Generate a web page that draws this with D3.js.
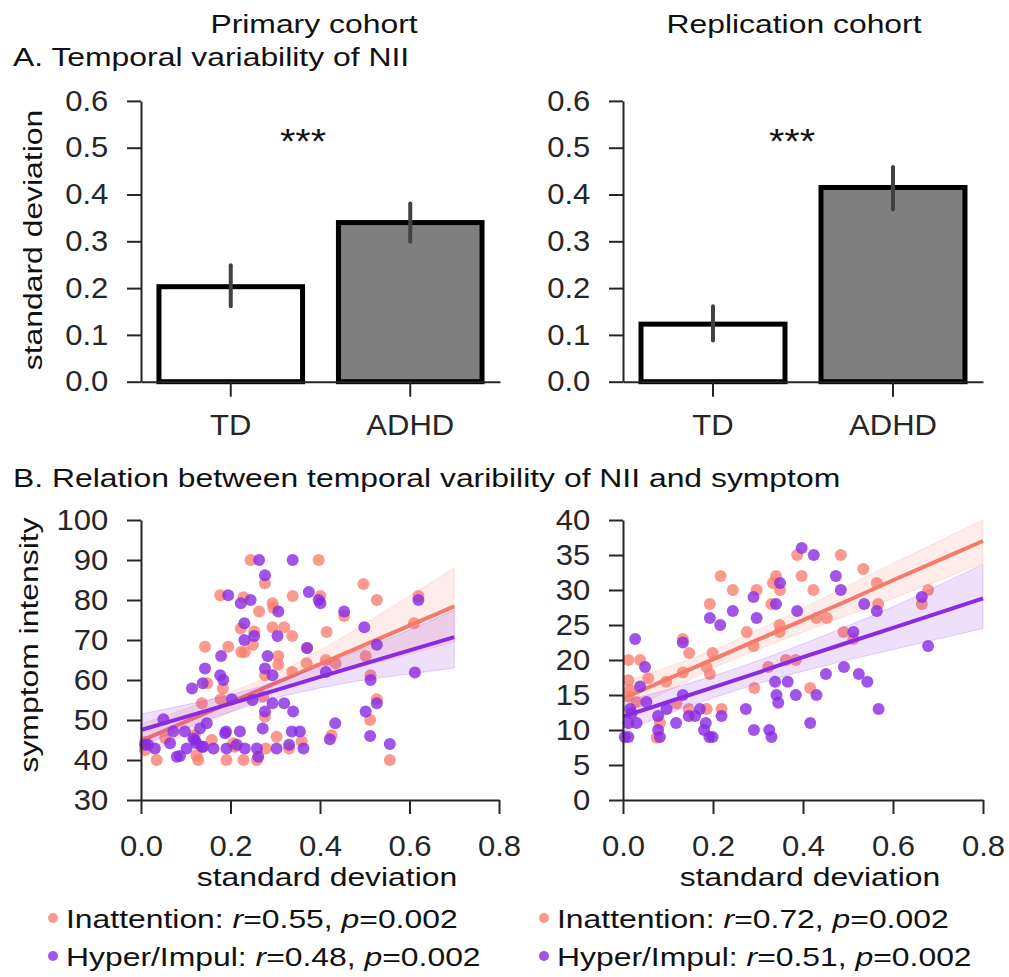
<!DOCTYPE html>
<html>
<head>
<meta charset="utf-8">
<script src="https://cdn.jsdelivr.net/npm/d3@7"></script>
<style>
body { margin: 0; background: #fff; }
svg text { font-family: "Liberation Sans", Arial, sans-serif; }
</style>
</head>
<body>
<svg id="chart" width="1009" height="977"></svg>
<script>
// ---- panel A: bar values (mean and CI) ----
const groups = ["TD", "ADHD"]
const primaryMeans = [0.203, 0.340]
const primaryLow = [0.161, 0.299]
const primaryHigh = [0.249, 0.381]
const replicationMeans = [0.123, 0.415]
const replicationLow = [0.088, 0.368]
const replicationHigh = [0.161, 0.459]
const barTicks = [0, 0.1, 0.2, 0.3, 0.4, 0.5, 0.6]

// ---- panel B: scatter points [sd, symptom] ----
const primaryInattention = [[0.245,90],[0.397,90],[0.277,84.2],[0.497,84],[0.177,81.2],[0.229,80.7],[0.339,81],[0.401,81],[0.527,80],[0.620,81],[0.294,79.2],[0.296,78],[0.264,77.1],[0.454,76],[0.223,72.9],[0.253,72.1],[0.250,68.8],[0.294,73.2],[0.320,73.2],[0.338,71],[0.415,72],[0.610,74.2],[0.143,68.3],[0.195,68.3],[0.224,67],[0.232,67],[0.307,66],[0.307,63.8],[0.371,68],[0.502,66],[0.277,61.2],[0.338,62],[0.370,64.2],[0.413,65],[0.435,64.2],[0.513,61.2],[0.148,59.2],[0.183,57.9],[0.136,54.2],[0.178,55.2],[0.273,55.8],[0.277,50.8],[0.527,55.2],[0.512,50],[0.426,46.2],[0.303,45.8],[0.556,40],[0.009,42.5],[0.035,40],[0.128,40],[0.191,40],[0.229,40],[0.259,40],[0.158,45],[0.279,42.9],[0.331,42.9],[0.359,44.6],[0.206,44.2],[0.124,41.2],[0.054,45.5],[0.009,44.5],[0.120,46.2],[0.210,43.3]]
const primaryHyper = [[0.264,90],[0.339,90],[0.277,86.2],[0.195,81.2],[0.245,80],[0.375,82],[0.397,80],[0.401,79.2],[0.620,80],[0.223,79.2],[0.307,77.1],[0.454,77.1],[0.231,74.2],[0.253,71],[0.231,70],[0.305,71],[0.499,73.2],[0.179,66],[0.283,66],[0.371,68],[0.527,68.8],[0.143,62.9],[0.277,62.9],[0.294,61.2],[0.413,62],[0.612,61.9],[0.513,60],[0.177,61.2],[0.184,60],[0.138,59.2],[0.114,57.9],[0.203,55.2],[0.249,55],[0.294,54.2],[0.320,54.2],[0.277,52.1],[0.340,52.1],[0.502,52.1],[0.527,54.2],[0.050,50.2],[0.147,49.2],[0.132,47.9],[0.272,47.9],[0.221,47.1],[0.190,47.1],[0.337,47.1],[0.355,47.1],[0.434,49.2],[0.422,45.2],[0.512,46],[0.556,44],[0.072,47.1],[0.098,47.1],[0.009,43.8],[0.031,42.9],[0.065,44.2],[0.080,40.8],[0.087,41],[0.262,40.8],[0.117,45.4],[0.124,44.2],[0.139,43.3],[0.162,42.9],[0.102,42.9],[0.191,42.9],[0.214,43.8],[0.232,42.9],[0.259,42.9],[0.303,42.9],[0.331,43.8],[0.363,42.9],[0.016,43.8],[0.136,43.3],[0.188,46.7],[0.120,45]]
const replicationInattention = [[0.387,35],[0.484,35],[0.217,32],[0.340,32],[0.397,32],[0.534,33],[0.244,30],[0.297,30],[0.333,31],[0.349,30],[0.423,30],[0.564,31],[0.678,30],[0.193,28],[0.330,28],[0.567,28],[0.664,28],[0.430,26],[0.453,26],[0.348,25],[0.348,24],[0.275,24],[0.290,22],[0.490,24],[0.512,23],[0.133,23],[0.147,21],[0.199,21],[0.186,19],[0.193,18],[0.362,20],[0.384,20],[0.323,19],[0.133,18.2],[0.012,20],[0.038,20],[0.056,17.4],[0.096,16.9],[0.012,17.1],[0.015,15.7],[0.012,14.8],[0.030,14],[0.119,13.8],[0.146,13],[0.186,13],[0.219,13],[0.292,16],[0.416,16],[0.082,11],[0.075,8.9]]
const replicationHyper = [[0.397,36],[0.424,35],[0.473,32],[0.349,31],[0.484,30],[0.290,29],[0.340,28],[0.536,28],[0.664,29],[0.564,27],[0.387,27],[0.244,27],[0.193,26],[0.297,26],[0.216,25],[0.512,24],[0.678,22],[0.027,23],[0.133,22.5],[0.049,19],[0.491,19],[0.451,18],[0.524,18],[0.543,16.9],[0.338,16.9],[0.366,16.9],[0.038,16.2],[0.133,15],[0.341,15],[0.384,15],[0.430,15],[0.345,13.9],[0.052,14],[0.097,13],[0.016,13],[0.146,12],[0.171,13],[0.160,12],[0.184,11],[0.219,12],[0.273,13],[0.118,11],[0.078,12],[0.078,10],[0.082,9],[0.030,11],[0.012,11],[0.012,9],[0.004,9],[0.180,10],[0.192,9],[0.199,9],[0.291,10],[0.325,10],[0.330,9],[0.416,11],[0.568,13],[0.019,12.4]]

// ---- regression fits and 95% CI ----
const primaryFitX = [0, 0.1, 0.2, 0.3, 0.4, 0.5, 0.6, 0.7]
const primaryInattFit = [44.8, 49.6, 54.4, 59.2, 64.0, 68.8, 73.6, 78.4]
const primaryInattLow = [40.5, 46.5, 52.0, 57.0, 60.5, 63.5, 66.5, 69.5]
const primaryInattHigh = [49.0, 52.8, 57.0, 61.5, 67.5, 74.0, 81.0, 88.0]
const primaryHyperFit = [47.5, 50.8, 54.1, 57.4, 60.8, 64.1, 67.4, 70.7]
const primaryHyperLow = [43.5, 48.0, 52.0, 55.5, 58.0, 60.0, 61.5, 63.0]
const primaryHyperHigh = [51.5, 53.8, 56.3, 59.5, 63.5, 68.0, 72.5, 77.5]

const replicationFitX = [0, 0.1, 0.2, 0.3, 0.4, 0.5, 0.6, 0.7, 0.8]
const replicationInattFit = [14.5, 17.3, 20.1, 22.9, 25.7, 28.5, 31.4, 34.2, 37.0]
const replicationInattLow = [12.4, 15.6, 18.8, 21.5, 24.0, 26.4, 28.8, 31.3, 33.9]
const replicationInattHigh = [16.7, 19.0, 21.4, 24.3, 27.4, 30.6, 33.8, 36.9, 40.0]
const replicationHyperFit = [11.9, 14.0, 16.1, 18.2, 20.4, 22.5, 24.6, 26.7, 28.8]
const replicationHyperLow = [9.8, 12.3, 14.6, 16.6, 18.4, 20.0, 21.5, 23.0, 24.5]
const replicationHyperHigh = [14.1, 15.8, 17.7, 19.9, 22.3, 24.9, 27.6, 30.6, 33.7]

const sdTicks = [0, 0.2, 0.4, 0.6, 0.8]
const primarySymptomTicks = [30, 40, 50, 60, 70, 80, 90, 100]
const replicationSymptomTicks = [0, 5, 10, 15, 20, 25, 30, 35, 40]

const primaryLegend = [["Inattention", "0.55", "0.002"], ["Hyper/Impul", "0.48", "0.002"]]
const replicationLegend = [["Inattention", "0.72", "0.002"], ["Hyper/Impul", "0.51", "0.002"]]

const orange = "#fa8072"
const purple = "#8a2be2"
const ink = "#262626"
// glyphs in the original are wider than Arial: stretch text horizontally
const labelSize = 25.5, labelSX = 1.25
const tickSize = 29, tickSX = 1.07

const svg = d3.select("#chart")

function addText(x, y, str, size, anchor, rotate, sx) {
    return svg.append("text")
        .attr("transform", `translate(${x},${y})${rotate ? " rotate(-90)" : ""} scale(${sx || labelSX},1)`)
        .attr("text-anchor", anchor || "start")
        .attr("font-size", size)
        .attr("fill", "#111")
        .text(str)
}

function styleAxis(g) {
    g.attr("font-size", tickSize)
        .attr("font-family", null)
        .attr("color", ink)
    g.selectAll("path, line").attr("stroke-width", 2)
    g.selectAll(".tick text").attr("transform", `scale(${tickSX},1)`)
}

function drawBars(left, right, means, low, high, starsX) {
    const x = d3.scaleBand().domain(groups).range([left, right]).paddingInner(0.2).paddingOuter(0.1)
    const y = d3.scaleLinear().domain([0, 0.6]).range([381.7, 100.9])
    const g = svg.append("g")

    g.selectAll("rect")
        .data(groups)
        .join("rect")
        .attr("x", d => x(d))
        .attr("y", (d, i) => y(means[i]))
        .attr("width", x.bandwidth())
        .attr("height", (d, i) => y(0) - y(means[i]))
        .attr("fill", (d, i) => i === 0 ? "#ffffff" : "#7f7f7f")
        .attr("stroke", "#000")
        .attr("stroke-width", 5)

    g.selectAll("line.err")
        .data(groups)
        .join("line")
        .attr("class", "err")
        .attr("x1", d => x(d) + x.bandwidth() / 2)
        .attr("x2", d => x(d) + x.bandwidth() / 2)
        .attr("y1", (d, i) => y(low[i]))
        .attr("y2", (d, i) => y(high[i]))
        .attr("stroke", "#424242")
        .attr("stroke-width", 4)
        .attr("stroke-linecap", "round")

    svg.append("g")
        .attr("transform", `translate(0,${y(0)})`)
        .call(d3.axisBottom(x).tickSize(15).tickSizeOuter(0).tickPadding(18))
        .call(styleAxis)

    svg.append("g")
        .attr("transform", `translate(${left},0)`)
        .call(d3.axisLeft(y).tickValues(barTicks).tickFormat(d3.format(".1f"))
            .tickSize(14).tickSizeOuter(0).tickPadding(16.5))
        .call(styleAxis)

    addText(starsX, 153, "***", 36, "middle", false, 1.1)
}

function drawScatter(left, right, yDomain, yTicks, fitX, sets) {
    const x = d3.scaleLinear().domain([0, 0.8]).range([left, right])
    const y = d3.scaleLinear().domain(yDomain).range([800, 520])
    const g = svg.append("g")

    sets.forEach(s => {
        g.append("g")
            .selectAll("circle")
            .data(s.points)
            .join("circle")
            .attr("cx", d => x(d[0]))
            .attr("cy", d => y(d[1]))
            .attr("r", 6)
            .attr("fill", s.color)
            .attr("fill-opacity", 0.8)

        const band = fitX.map((v, i) => [v, s.low[i], s.high[i]])
        g.append("path")
            .datum(band)
            .attr("fill", s.color)
            .attr("fill-opacity", 0.15)
            .attr("stroke", s.color)
            .attr("stroke-opacity", 0.2)
            .attr("d", d3.area().curve(d3.curveMonotoneX)
                .x(d => x(d[0])).y0(d => y(d[1])).y1(d => y(d[2])))

        g.append("path")
            .datum(fitX.map((v, i) => [v, s.fit[i]]))
            .attr("fill", "none")
            .attr("stroke", s.line)
            .attr("stroke-width", 4)
            .attr("d", d3.line().x(d => x(d[0])).y(d => y(d[1])))
    })

    svg.append("g")
        .attr("transform", "translate(0,800)")
        .call(d3.axisBottom(x).tickValues(sdTicks).tickFormat(d3.format(".1f"))
            .tickSize(14).tickSizeOuter(0).tickPadding(21))
        .call(styleAxis)

    svg.append("g")
        .attr("transform", `translate(${left},0)`)
        .call(d3.axisLeft(y).tickValues(yTicks).tickSize(14).tickSizeOuter(0).tickPadding(16.5))
        .call(styleAxis)

    addText((left + right) / 2 + 7, 886, "standard deviation", labelSize, "middle")
}

function legendRow(x, y, color, row) {
    svg.append("circle").attr("cx", x).attr("cy", y - 10).attr("r", 5)
        .attr("fill", color).attr("fill-opacity", 0.8)
    const t = addText(x + 13, y, "", labelSize)
    t.append("tspan").text(row[0] + ": ")
    t.append("tspan").attr("font-style", "italic").text("r")
    t.append("tspan").text("=" + row[1] + ", ")
    t.append("tspan").attr("font-style", "italic").text("p")
    t.append("tspan").text("=" + row[2])
}

// titles
addText(314, 33, "Primary cohort", labelSize, "middle")
addText(794, 33, "Replication cohort", labelSize, "middle")
addText(13, 66, "A. Temporal variability of NII", labelSize)
addText(13, 487, "B. Relation between temporal varibility of NII and symptom", labelSize)

// panel A
drawBars(141, 500, primaryMeans, primaryLow, primaryHigh, 303)
drawBars(623, 983, replicationMeans, replicationLow, replicationHigh, 792)
addText(42, 240, "standard deviation", labelSize, "middle", true)

// panel B
drawScatter(141, 499, [30, 100], primarySymptomTicks, primaryFitX, [
    { points: primaryInattention, fit: primaryInattFit, low: primaryInattLow, high: primaryInattHigh, color: orange, line: "#f47a6a" },
    { points: primaryHyper, fit: primaryHyperFit, low: primaryHyperLow, high: primaryHyperHigh, color: purple, line: purple }
])
drawScatter(623, 983, [0, 40], replicationSymptomTicks, replicationFitX, [
    { points: replicationInattention, fit: replicationInattFit, low: replicationInattLow, high: replicationInattHigh, color: orange, line: "#f47a6a" },
    { points: replicationHyper, fit: replicationHyperFit, low: replicationHyperLow, high: replicationHyperHigh, color: purple, line: purple }
])
addText(38, 645, "symptom intensity", labelSize, "middle", true)

// legend
legendRow(53, 928, orange, primaryLegend[0])
legendRow(53, 966, purple, primaryLegend[1])
legendRow(544, 928, orange, replicationLegend[0])
legendRow(544, 966, purple, replicationLegend[1])
</script>
</body>
</html>
